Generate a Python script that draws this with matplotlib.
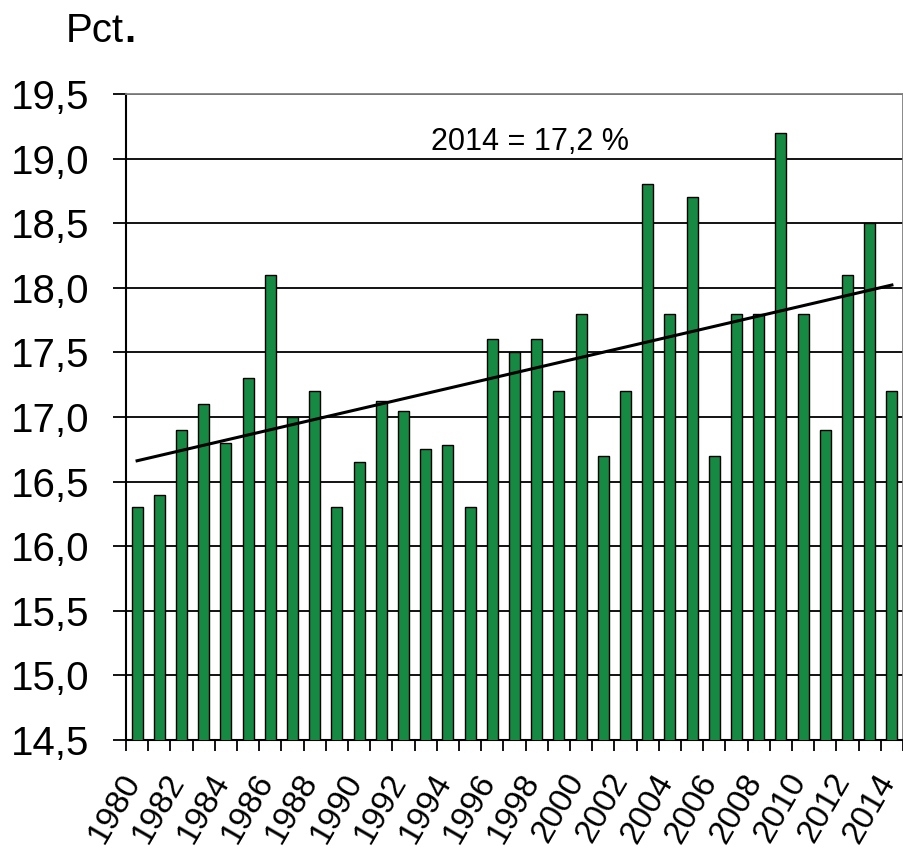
import numpy as np
import matplotlib.pyplot as plt
import matplotlib.transforms as mtransforms

plt.rcParams['font.family'] = ['Liberation Sans', 'DejaVu Sans']

# data
years = list(range(1980, 2015))
values = [16.3, 16.4, 16.9, 17.1, 16.8, 17.3, 18.1, 17.0, 17.2, 16.3,
          16.65, 17.12, 17.05, 16.75, 16.78, 16.3, 17.6, 17.5, 17.6, 17.2,
          17.8, 16.7, 17.2, 18.8, 17.8, 18.7, 16.7, 17.8, 17.8, 19.2,
          17.8, 16.9, 18.1, 18.5, 17.2]
yticks = [14.5, 15.0, 15.5, 16.0, 16.5, 17.0, 17.5, 18.0, 18.5, 19.0, 19.5]
note = '2014 = 17,2 %'

fig = plt.figure(figsize=(9.04, 8.52), dpi=100)
ax = fig.add_axes([126 / 904, 112 / 852, 777 / 904, 646 / 852])

x = np.arange(len(years))
ax.bar(x, values, width=0.5, color='#168a42', edgecolor='black', linewidth=1.0, zorder=3)

# linear trend line through the data
slope, inter = np.polyfit(x, values, 1)
ax.plot([x[0], x[-1]], [inter, inter + slope * x[-1]], color='black', linewidth=2.2, zorder=4)

ax.set_xlim(-0.5, len(years) - 0.5)
ax.set_ylim(14.5, 19.5)
ax.set_yticks(yticks)
ax.set_yticklabels([f'{v:.1f}'.replace('.', ',') for v in yticks], fontsize=29)
ax.yaxis.grid(True, color='black', linewidth=1.3, zorder=0)
ax.set_axisbelow(True)
ax.tick_params(axis='y', length=9.5, width=1.3, pad=17)

# every other year labelled, ticks between categories
ax.set_xticks(x[::2])
ax.set_xticklabels([str(y) for y in years[::2]], rotation=60, ha='right', va='center',
                   rotation_mode='anchor', fontsize=24)
ax.set_xticks(np.arange(-0.5, len(years)), minor=True)
ax.tick_params(axis='x', which='major', length=0, pad=26)
ax.tick_params(axis='x', which='minor', length=8, width=1.3)
shift = mtransforms.ScaledTranslation(-4 / 100, 0, fig.dpi_scale_trans)
for lbl in ax.get_xticklabels():
    lbl.set_transform(lbl.get_transform() + shift)

for side in ['left', 'bottom']:
    ax.spines[side].set_color('black')
    ax.spines[side].set_linewidth(1.5)
for side in ['top', 'right']:
    ax.spines[side].set_color('#808080')
    ax.spines[side].set_linewidth(1.3)

ax.text(0.52, 0.926, note, transform=ax.transAxes, ha='center', va='center', fontsize=22)

# unit label: "Pct" followed by a bold full stop
pct = fig.text(66 / 904, 1 - 31 / 852, 'Pct', fontsize=29, va='center', ha='left')
fig.canvas.draw()
bb = pct.get_window_extent()
fig.text(bb.x1 / 904, 1 - 31 / 852, '.', fontsize=29, va='center', ha='left', fontweight='bold')

fig.savefig('out.png', dpi=100)
